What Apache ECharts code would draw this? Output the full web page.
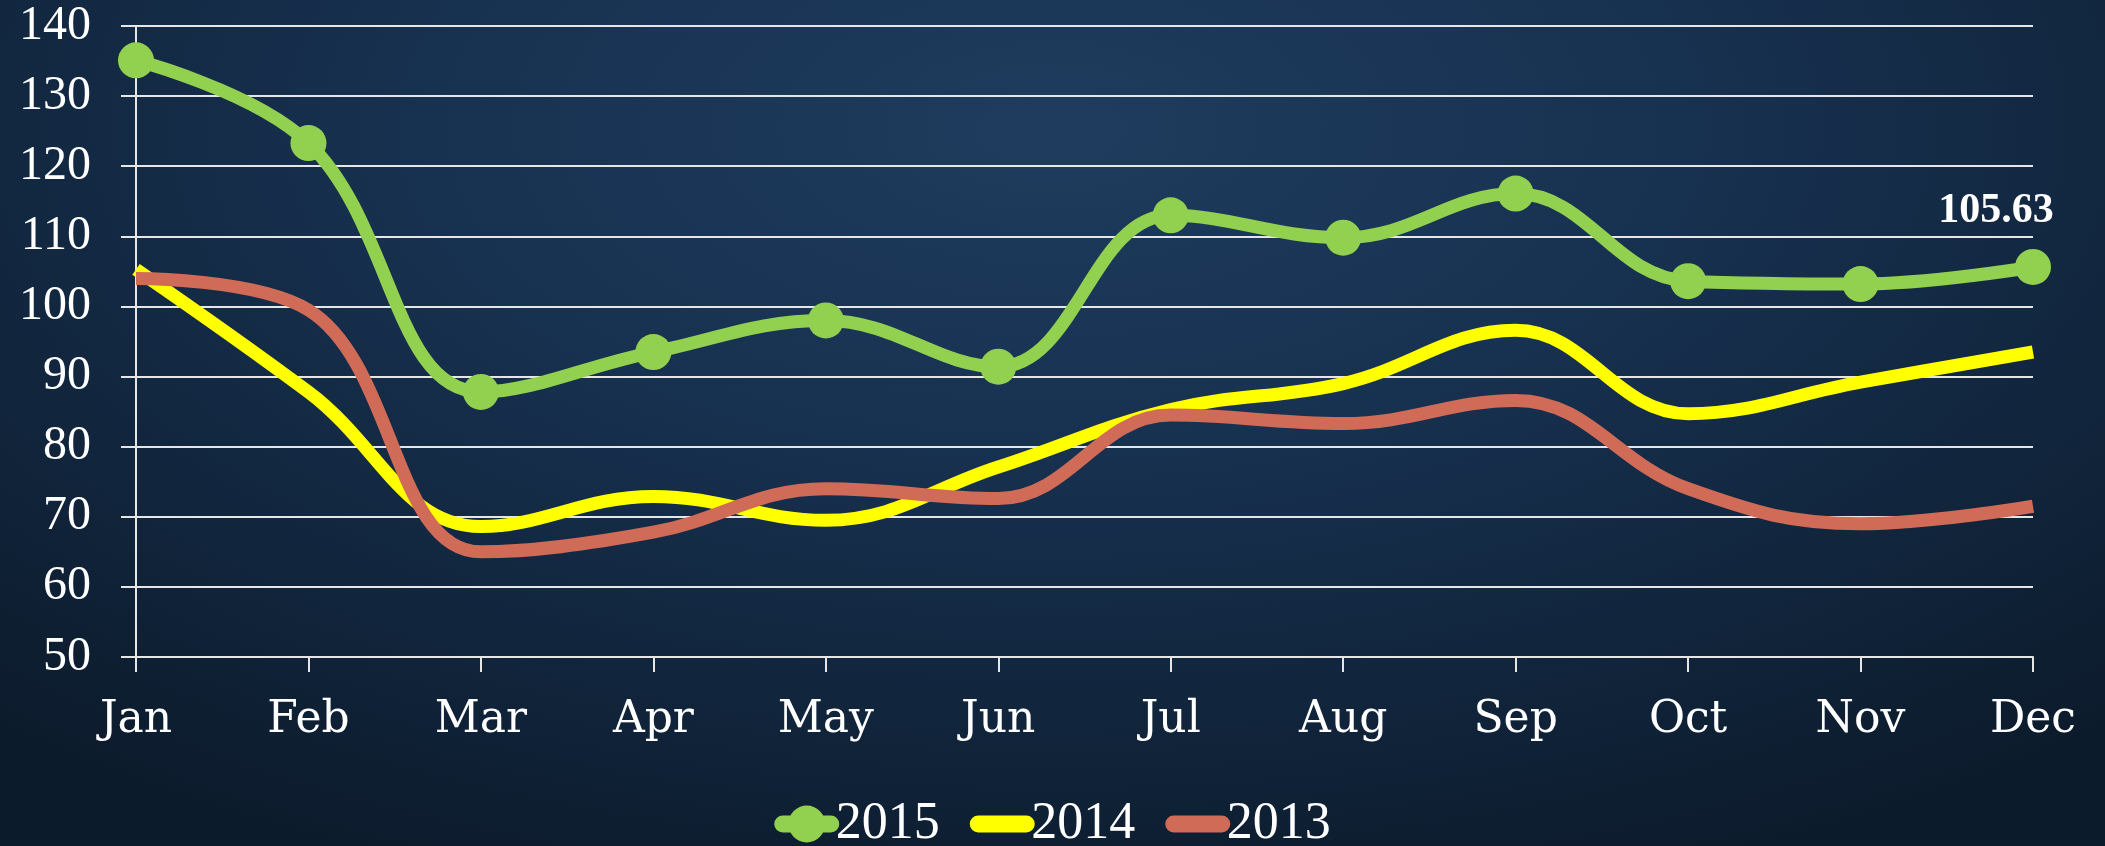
<!DOCTYPE html>
<html>
<head>
<meta charset="utf-8">
<script src="https://cdn.jsdelivr.net/npm/echarts@6/dist/echarts.min.js"></script>
<style>
    html, body { margin: 0; padding: 0; width: 2105px; height: 846px; overflow: hidden; }
    body { background: radial-gradient(ellipse 75% 95% at 50% 15%, #1f3c5e 0%, #173150 40%, #0c1b2c 100%); }
    #main { width: 2105px; height: 846px; }
</style>
</head>
<body>
<div id="main"></div>
<script type="text/javascript">
    // 月份
    var months = ['Jan', 'Feb', 'Mar', 'Apr', 'May', 'Jun', 'Jul', 'Aug', 'Sep', 'Oct', 'Nov', 'Dec'];
    // 三年的数据
    var data2015 = [135.1, 123.3, 87.8, 93.5, 98.0, 91.4, 113.0, 109.8, 116.1, 103.6, 103.2, 105.63];
    var data2014 = [105.3, 87.8, 68.6, 72.9, 69.5, 77.1, 85.3, 89.0, 96.6, 84.7, 89.2, 93.5];
    var data2013 = [104.0, 99.5, 65.0, 67.8, 74.0, 72.6, 84.5, 83.3, 86.6, 74.0, 69.0, 71.5];
    var legendNames = ['2015', '2014', '2013'];
    var colors = ['#92d050', '#ffff00', '#d06b57'];

    var numFont = "'Liberation Serif', serif";
    var monthFont = "'DejaVu Serif', serif";

    // 只在最后一个点显示数值
    var green = data2015.map(function (v, i) {
        if (i === data2015.length - 1) {
            return {
                value: v,
                label: {
                    show: true, position: 'top', offset: [-37, -12],
                    color: '#ffffff', fontFamily: numFont, fontWeight: 'bold', fontSize: 42,
                    formatter: function (p) { return p.value.toFixed(2); }
                }
            };
        }
        return v;
    });

    var myChart = echarts.init(document.getElementById('main'));
    var option = {
        backgroundColor: 'transparent',
        color: colors,
        animation: false,
        grid: { left: 136, right: 72, top: 26, bottom: 189, containLabel: false },
        legend: {
            data: [
                { name: legendNames[0] },
                { name: legendNames[1], itemStyle: { opacity: 0 } },
                { name: legendNames[2], itemStyle: { opacity: 0 } }
            ],
            bottom: -9,
            left: 'center',
            itemWidth: 48,
            itemHeight: 46,
            itemGap: 30,
            lineStyle: { width: 17, cap: 'round' },
            textStyle: { color: '#ffffff', fontFamily: numFont, fontSize: 52, padding: [0, 0, 0, 0] }
        },
        xAxis: {
            type: 'category',
            data: months,
            boundaryGap: false,
            axisLine: { lineStyle: { color: '#e6e6e6', width: 2 } },
            axisTick: { show: true, length: 15, lineStyle: { color: '#e6e6e6', width: 2 } },
            axisLabel: { color: '#ffffff', fontFamily: monthFont, fontSize: 44, margin: 42 }
        },
        yAxis: {
            type: 'value',
            min: 50,
            max: 140,
            interval: 10,
            axisLine: { show: true, lineStyle: { color: '#e6e6e6', width: 2 } },
            axisTick: { show: true, length: 15, lineStyle: { color: '#e6e6e6', width: 2 } },
            splitLine: { lineStyle: { color: '#e6e6e6', width: 2 } },
            axisLabel: { color: '#ffffff', fontFamily: numFont, fontSize: 48, margin: 45 }
        },
        series: [
            {
                name: '2015', type: 'line', data: green, smooth: 0.4,
                symbol: 'circle', symbolSize: 36,
                lineStyle: { width: 13, color: colors[0] },
                itemStyle: { color: colors[0] }
            },
            {
                name: '2014', type: 'line', data: data2014, smooth: 0.4,
                showSymbol: false, symbol: 'none',
                lineStyle: { width: 13, color: colors[1] },
                itemStyle: { color: colors[1] }
            },
            {
                name: '2013', type: 'line', data: data2013, smooth: 0.4,
                showSymbol: false, symbol: 'none',
                lineStyle: { width: 13, color: colors[2] },
                itemStyle: { color: colors[2] }
            }
        ]
    };
    myChart.setOption(option, true);
</script>
</body>
</html>
